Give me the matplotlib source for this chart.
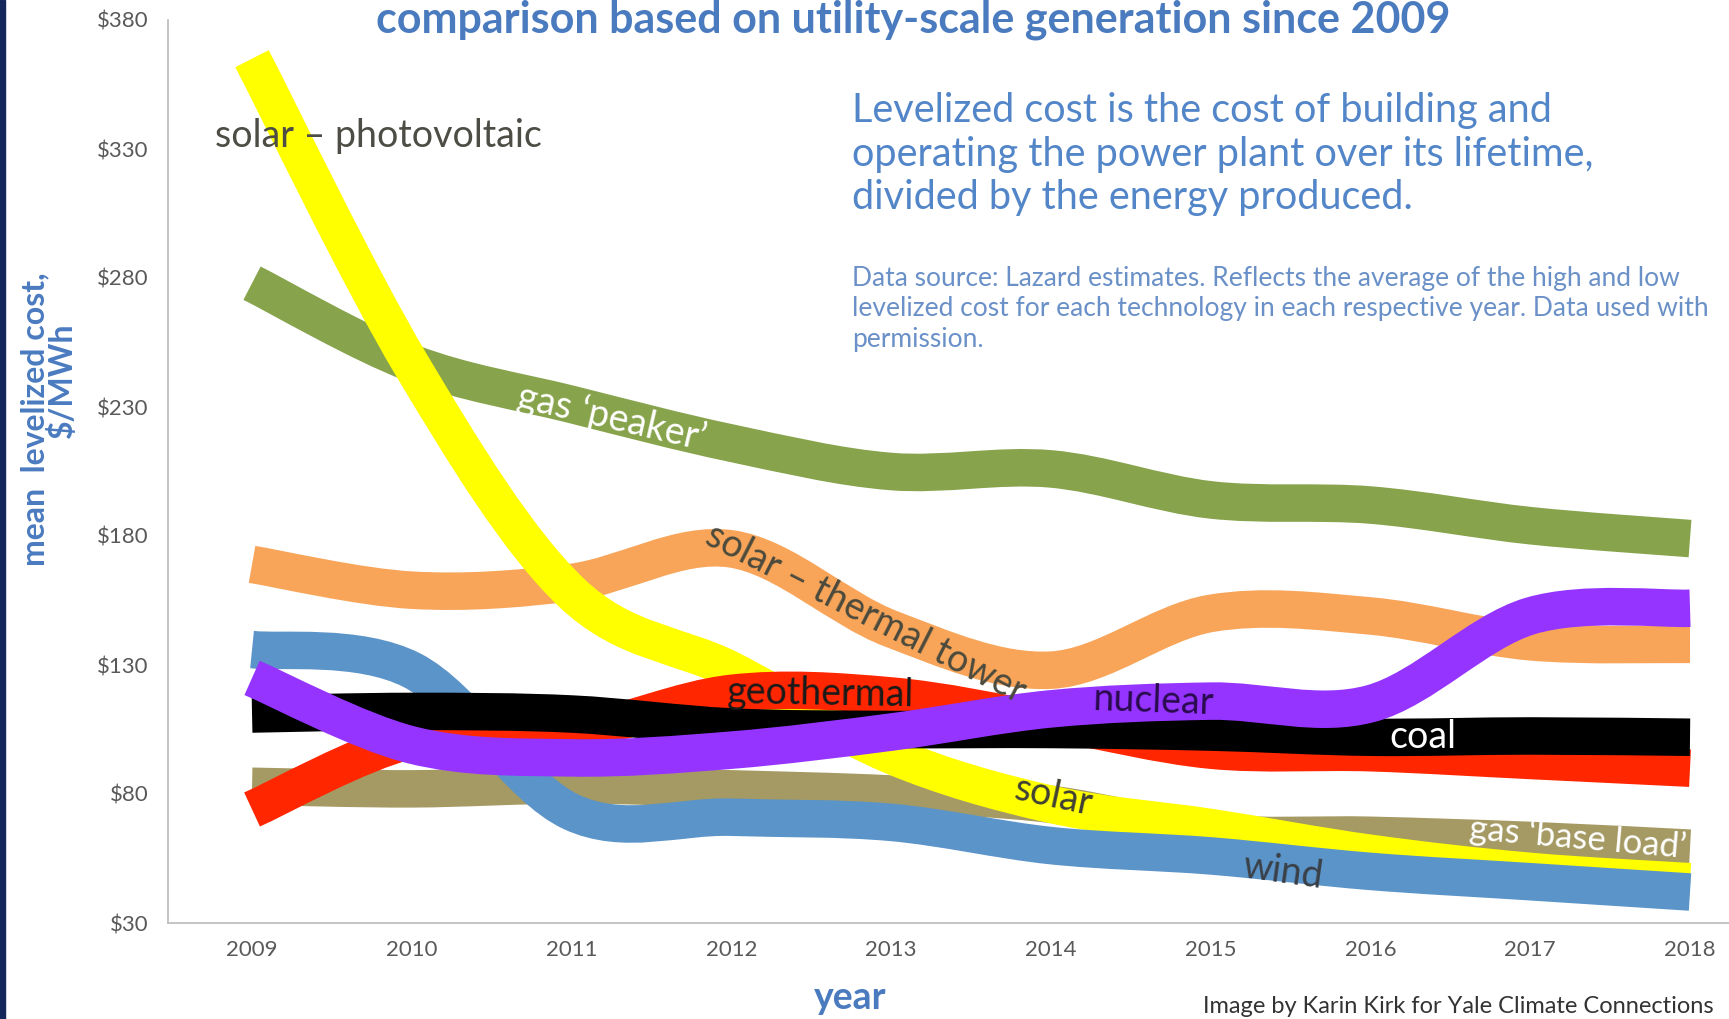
import matplotlib
matplotlib.use("Agg")
import matplotlib.pyplot as plt
import numpy as np
from matplotlib.path import Path
from matplotlib.patches import PathPatch, Rectangle

plt.rcParams['font.family'] = ['Lato', 'DejaVu Sans']

# mean levelized cost, $/MWh
years = [2009, 2010, 2011, 2012, 2013, 2014, 2015, 2016, 2017, 2018]
gas_base = [83, 82, 83.5, 82, 80, 76, 65, 64, 62, 59]
gas_peaker = [278, 247, 231, 216, 205, 206, 194, 192, 184, 179]
solar_thermal = [169, 159, 162, 175, 144, 128, 150, 149, 139, 138]
solar_pv = [365, 246, 158, 128, 95, 76, 67, 57, 50, 46]
wind = [136, 128, 73, 71, 69, 60, 56, 50, 46, 42]
geothermal = [74, 101, 104, 119, 118, 108, 97, 96, 93, 90]
coal = [111, 112, 111, 106, 105, 105, 104, 102, 102.5, 102]
nuclear = [125, 99, 94, 97, 104, 113, 116, 115, 149, 152]

# drawing order = bottom to top
series = [
    (gas_base, '#a59a63'),
    (gas_peaker, '#87a34b'),
    (solar_thermal, '#f8a55a'),
    (solar_pv, '#ffff00'),
    (wind, '#5b94c8'),
    (geothermal, '#ff2600'),
    (coal, '#000000'),
    (nuclear, '#9534ff'),
]

yticks = [30, 80, 130, 180, 230, 280, 330, 380]


def smooth_path(xs, ys):
    # smoothed line like the spreadsheet one: bezier through every data point
    pts = np.column_stack([xs, ys]).astype(float)
    n = len(pts)
    verts = [pts[0]]
    codes = [Path.MOVETO]
    for i in range(n - 1):
        p0 = pts[i - 1] if i > 0 else pts[i]
        p1 = pts[i]
        p2 = pts[i + 1]
        p3 = pts[i + 2] if i + 2 < n else pts[i + 1]
        verts += [p1 + (p2 - p0) / 6, p2 - (p3 - p1) / 6, p2]
        codes += [Path.CURVE4] * 3
    return Path(verts, codes)


W, H = 1729, 1019
fig = plt.figure(figsize=(W / 100, H / 100), dpi=100)
ax = fig.add_axes([168 / W, 1 - 923 / H, 1 - 168 / W, (923 - 20) / H])

for vals, col in series:
    ax.add_patch(PathPatch(smooth_path(years, vals), fill=False, edgecolor=col,
                           lw=27, capstyle='butt', joinstyle='round'))

ax.set_xlim(2008.474, 2018.244)
ax.set_ylim(30, 380)
ax.set_xticks(years)
ax.set_xticklabels([str(y) for y in years])
ax.set_yticks(yticks)
ax.set_yticklabels(['$%d' % v for v in yticks])
ax.tick_params(length=0, labelsize=16, colors='#595959')
ax.tick_params(axis='y', pad=14)
ax.tick_params(axis='x', pad=12)
for s in ['top', 'right']:
    ax.spines[s].set_visible(False)
for s in ['left', 'bottom']:
    ax.spines[s].set_color('#c0c0c0')
    ax.spines[s].set_linewidth(1.3)

# labels on the bands
lab = dict(fontsize=27, ha='center', va='center', zorder=10)
ax.text(2009.79, 335, 'solar – photovoltaic', color='#4d4d45', **lab)
ax.text(2011.25, 226, 'gas ‘peaker’', color='white', rotation=-13, **lab)
ax.text(2012.84, 150, 'solar – thermal tower', color='#4a4a3c', rotation=-27, **lab)
ax.text(2012.56, 119, 'geothermal', color='#1a1a1a', rotation=-1, **lab)
ax.text(2014.64, 116, 'nuclear', color='#2b0b4f', rotation=-2, **lab)
ax.text(2016.33, 102, 'coal', color='white', **lab)
ax.text(2014.02, 79, 'solar', color='#3f3f35', rotation=-12, **lab)
ax.text(2015.45, 50, 'wind', color='#3a4048', rotation=-8, **lab)
lab['fontsize'] = 25
ax.text(2017.3, 63, 'gas ‘base load’', color='white', rotation=-5, **lab)

# titles and notes
fig.text(913 / W, 1 - 33 / H, 'comparison based on utility-scale generation since 2009',
         ha='center', va='baseline', fontsize=31, fontweight='bold', color='#4a7bbf')
fig.text(852 / W, 1 - 92 / H,
         'Levelized cost is the cost of building and\n'
         'operating the power plant over its lifetime,\n'
         'divided by the energy produced.',
         ha='left', va='top', fontsize=28.5, color='#5286c8', linespacing=1.22)
fig.text(852 / W, 1 - 266 / H,
         'Data source: Lazard estimates. Reflects the average of the high and low\n'
         'levelized cost for each technology in each respective year. Data used with\n'
         'permission.',
         ha='left', va='top', fontsize=19, color='#6a90c8', linespacing=1.27)
fig.text(35 / W, 1 - 419 / H, 'mean  levelized cost,', rotation=90,
         ha='center', va='center', fontsize=23, fontweight='bold', color='#4a7bbf')
fig.text(62 / W, 1 - 380 / H, '$/MWh', rotation=90,
         ha='center', va='center', fontsize=23, fontweight='bold', color='#4a7bbf')
fig.text(850 / W, 1 - 998 / H, 'year', ha='center', va='center', fontsize=27,
         fontweight='bold', color='#4a7bbf')
fig.text(1458 / W, 1 - 1017 / H, 'Image by Karin Kirk for Yale Climate Connections',
         ha='center', va='bottom', fontsize=17, color='#333333')

# dark frame edge on the left
fig.patches.append(Rectangle((0, 0), 5 / W, 1, transform=fig.transFigure,
                             color='#14275a', zorder=20))

fig.savefig('out.png', dpi=100)
